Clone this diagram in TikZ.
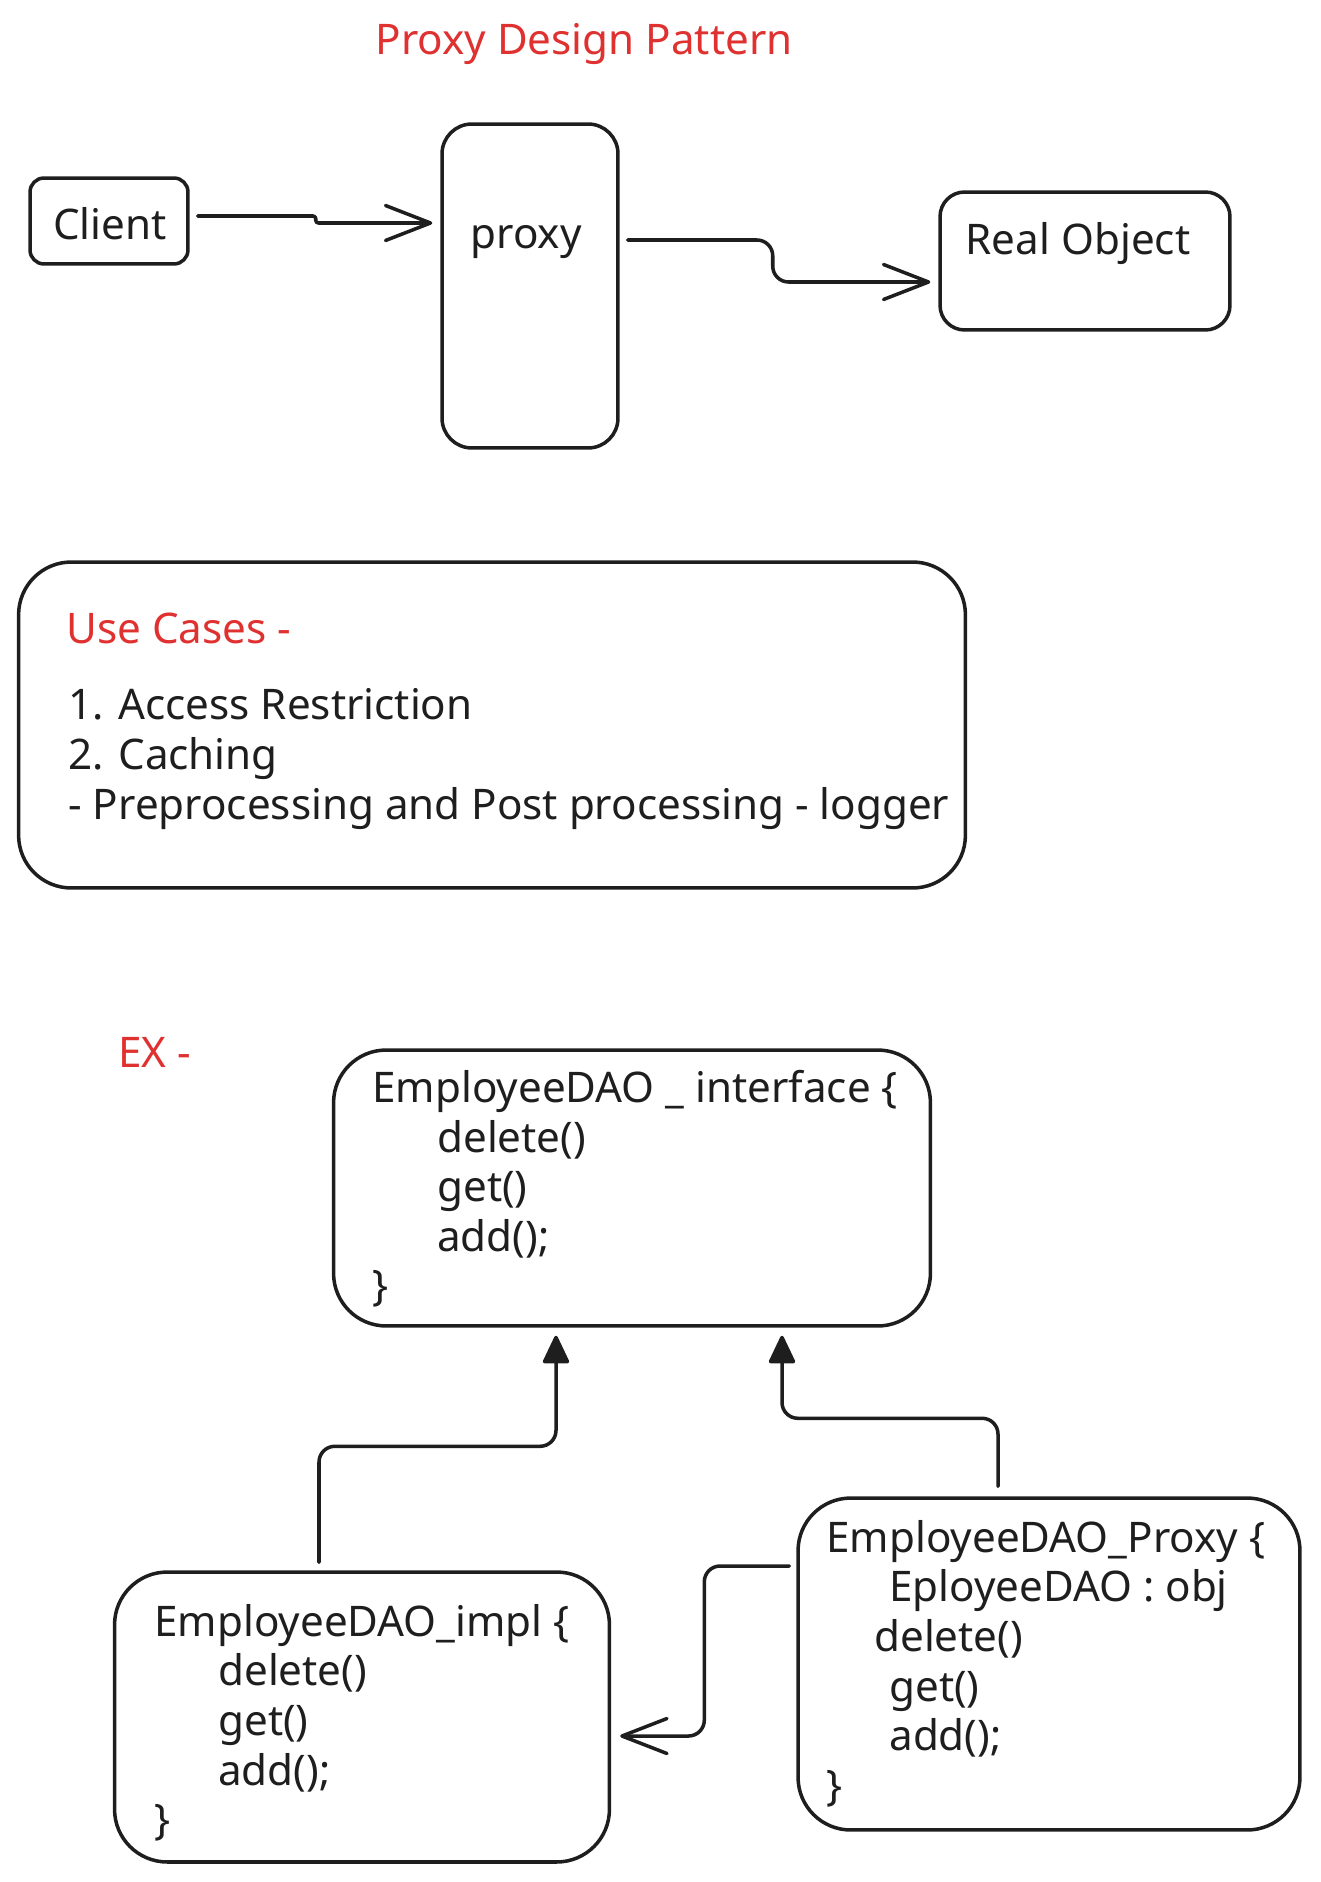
\documentclass[tikz,border=0pt]{standalone}
\usepackage{fontspec}
\setmainfont{Noto Sans}
\usetikzlibrary{arrows.meta,calc}
\definecolor{ink}{HTML}{1E1E1E}
\definecolor{exred}{HTML}{E03131}

\begin{document}
\begin{tikzpicture}[x=0.02cm,y=-0.02cm,
        box/.style={draw=ink,line width=2pt,rounded corners=#1,inner sep=0pt},
        box/.default=30pt,
        txt/.style={font=\fontsize{24}{28.2}\selectfont,text=ink,inner sep=0pt},
        redtxt/.style={txt,text=exred},
        code/.style={txt,align=left,anchor=north west},
        link/.style={draw=ink,line width=2pt,line cap=round,line join=round,rounded corners=9pt},
        openarr/.style={link,-{Straight Barb[length=0.9cm,width=0.7cm,round]}},
        fillarr/.style={link,-{Triangle[length=0.6cm,width=0.55cm,round]}}]
        \useasboundingbox (0,0) rectangle (1320,1882);

        \node[redtxt] (title) at (584,44) {Proxy Design Pattern};

        \node[box=8pt,minimum width=3.16cm,minimum height=1.72cm] (client) at (109,221) {};
        \node[box=17pt,minimum width=3.52cm,minimum height=6.48cm] (proxy) at (530,286) {};
        \node[box=14pt,minimum width=5.8cm,minimum height=2.76cm] (realobj) at (1085,261) {};
        \node[txt] (clientlbl) at (110,224) {Client};
        \node[txt] (proxylbl) at (526,242) {proxy};
        \node[txt] (realobjlbl) at (1078,244) {Real Object};

        \draw[openarr,rounded corners=1.5pt] ($(client.east)+(8,-5)$) -- ++(118,0) |- ($(proxy.west)+(-8,-63)$);
        \draw[openarr] ($(proxy.east)+(8,-46)$) -- ++(145,0) |- ($(realobj.west)+(-8,21)$);

        \node[box,minimum width=18.94cm,minimum height=6.52cm] (usecases) at (492,725) {};
        \node[redtxt,anchor=west] (uchead) at (66,628) {Use Cases -};
        \node[code,font=\fontsize{24}{28.45}\selectfont] (uclist) at (68,688)
                {1. Access Restriction\\2. Caching\\- Preprocessing and Post processing - logger};

        \node[redtxt,anchor=west] (exlbl) at (118,1052) {EX -};

        \node[box,minimum width=11.94cm,minimum height=5.52cm] (iface) at (632,1188) {};
        \node[box,minimum width=9.9cm,minimum height=5.8cm] (impl) at (362,1717) {};
        \node[box,minimum width=10.04cm,minimum height=6.64cm] (daoproxy) at (1049,1664) {};

        \node[code] (ifacecode) at (372,1070)
                {EmployeeDAO \_ interface \{\\
                \hspace*{1.3cm}delete()\\
                \hspace*{1.3cm}get()\\
                \hspace*{1.3cm}add();\\
                \}};
        \node[code] (implcode) at (154,1604)
                {EmployeeDAO\_impl \{\\
                \hspace*{1.28cm}delete()\\
                \hspace*{1.28cm}get()\\
                \hspace*{1.28cm}add();\\
                \}};
        \node[code] (proxycode) at (826,1520)
                {EmployeeDAO\_Proxy \{\\
                \hspace*{1.26cm}EployeeDAO : obj\\
                \hspace*{0.96cm}delete()\\
                \hspace*{1.26cm}get()\\
                \hspace*{1.26cm}add();\\
                \}};

        \draw[fillarr] ($(impl.north)+(-43,-8)$) -- ++(0,-116) -| ($(iface.south)+(-76,8)$);
        \draw[fillarr] ($(daoproxy.north)+(-51,-10)$) -- ++(0,-68) -| ($(iface.south)+(150,8)$);
        \draw[openarr] ($(daoproxy.west)+(-7,-98)$) -- ++(-85,0) |- ($(impl.east)+(9,19)$);
    \end{tikzpicture}
\end{document}
